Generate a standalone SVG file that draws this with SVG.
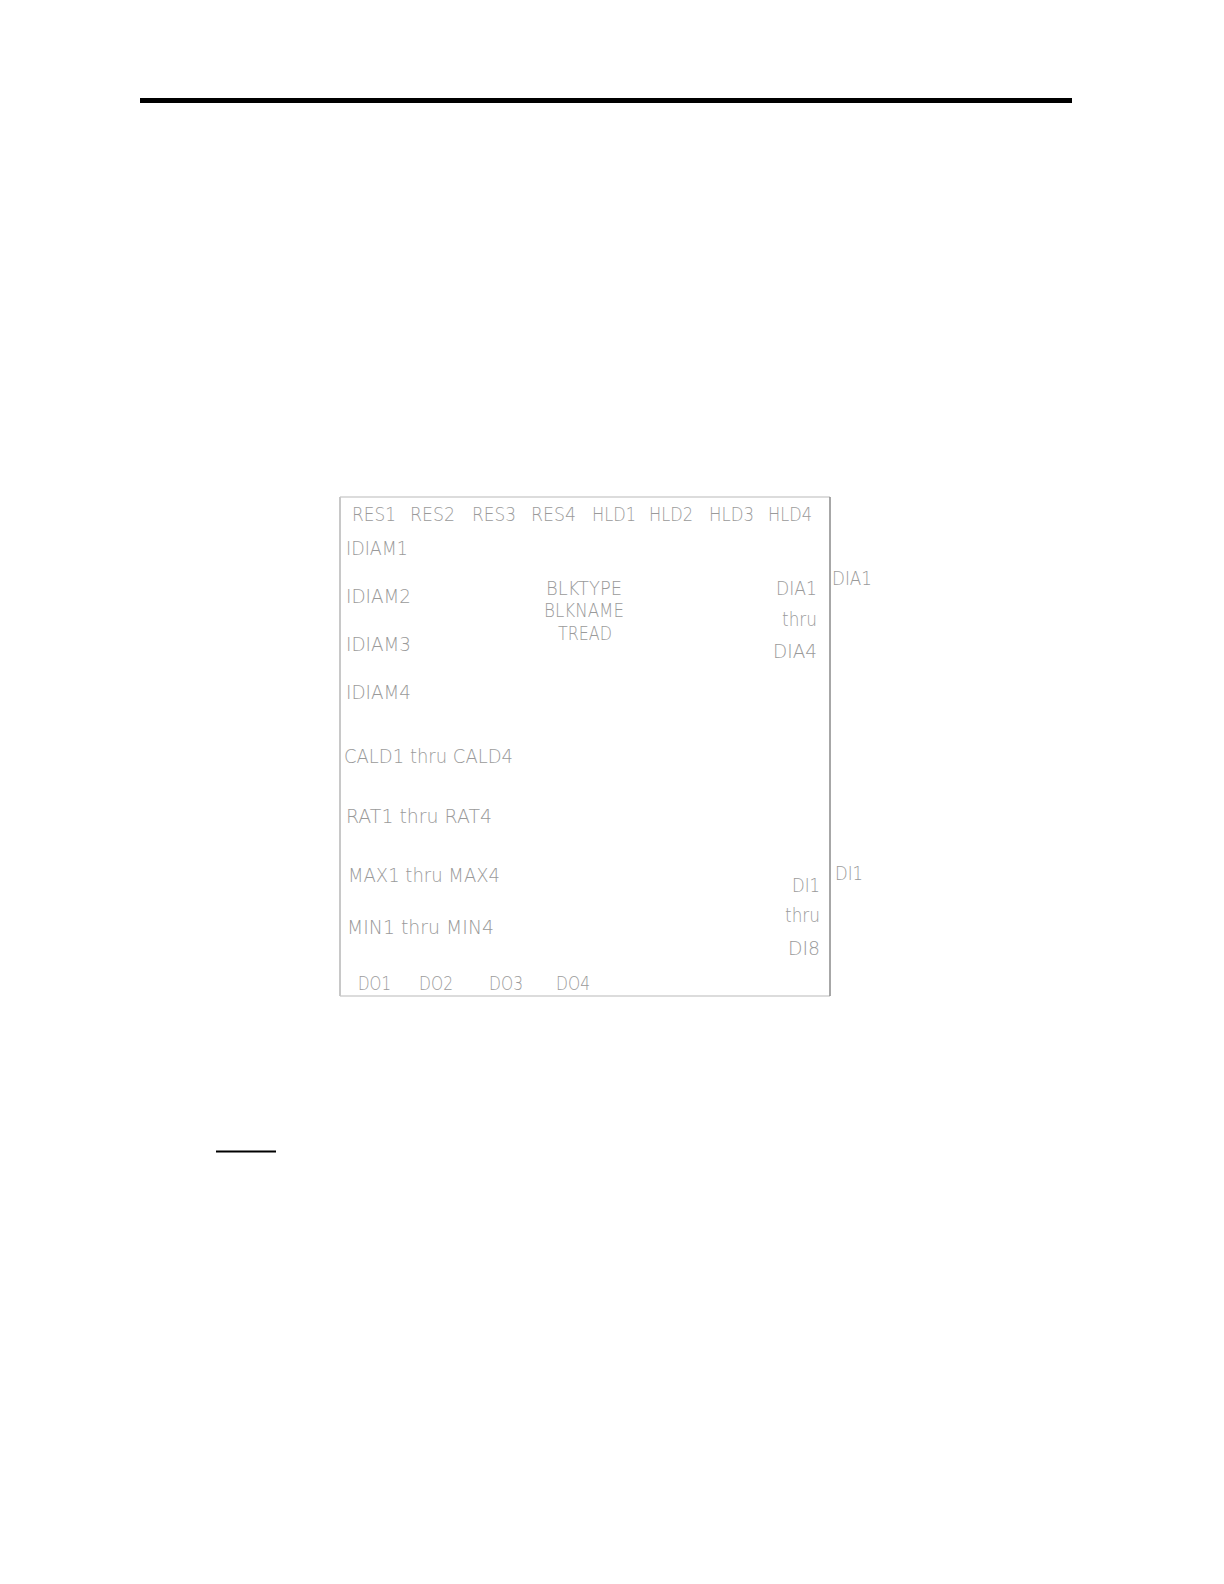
<svg xmlns="http://www.w3.org/2000/svg" width="1224" height="1584" viewBox="0 0 1224 1584">
<style>
text{font-family:"DejaVu Sans","Liberation Sans",sans-serif;font-weight:200;font-size:20px;fill:#9a9a9a;}
.r{text-anchor:end}
.m{text-anchor:middle}
</style>
<rect width="1224" height="1584" fill="#fff"/>
<rect x="140" y="98" width="932" height="5" fill="#000"/>
<line x1="216" y1="1151.5" x2="276" y2="1151.5" stroke="#000" stroke-width="2"/>
<g id="block">
<line x1="340" y1="497" x2="830" y2="497" stroke="#d0d0d0" stroke-width="1.5"/>
<line x1="340" y1="996" x2="830" y2="996" stroke="#d0d0d0" stroke-width="1.5"/>
<line x1="340" y1="497" x2="340" y2="996" stroke="#c8c8c8" stroke-width="2"/>
<line x1="830" y1="497" x2="830" y2="996" stroke="#8a8a8a" stroke-width="1.5"/>
<text x="352" y="521" textLength="44" lengthAdjust="spacingAndGlyphs">RES1</text>
<text x="410" y="521" textLength="45" lengthAdjust="spacingAndGlyphs">RES2</text>
<text x="472" y="521" textLength="44" lengthAdjust="spacingAndGlyphs">RES3</text>
<text x="531" y="521" textLength="45" lengthAdjust="spacingAndGlyphs">RES4</text>
<text x="592" y="521" textLength="44" lengthAdjust="spacingAndGlyphs">HLD1</text>
<text x="649" y="521" textLength="44" lengthAdjust="spacingAndGlyphs">HLD2</text>
<text x="709" y="521" textLength="45" lengthAdjust="spacingAndGlyphs">HLD3</text>
<text x="768" y="521" textLength="44" lengthAdjust="spacingAndGlyphs">HLD4</text>
<text x="346" y="555" textLength="62" lengthAdjust="spacingAndGlyphs">IDIAM1</text>
<text x="346" y="603" textLength="65" lengthAdjust="spacingAndGlyphs">IDIAM2</text>
<text x="346" y="651" textLength="65" lengthAdjust="spacingAndGlyphs">IDIAM3</text>
<text x="346" y="699" textLength="65" lengthAdjust="spacingAndGlyphs">IDIAM4</text>
<text x="546" y="595" textLength="76" lengthAdjust="spacingAndGlyphs">BLKTYPE</text>
<text x="544" y="617" textLength="80" lengthAdjust="spacingAndGlyphs">BLKNAME</text>
<text x="558" y="640" textLength="54" lengthAdjust="spacingAndGlyphs">TREAD</text>
<text x="817" y="595" class="r" textLength="41" lengthAdjust="spacingAndGlyphs">DIA1</text>
<text x="817" y="626" class="r" textLength="35" lengthAdjust="spacingAndGlyphs">thru</text>
<text x="817" y="658" class="r" textLength="44" lengthAdjust="spacingAndGlyphs">DIA4</text>
<text x="344" y="763" textLength="169" lengthAdjust="spacingAndGlyphs">CALD1 thru CALD4</text>
<text x="346" y="823" textLength="146" lengthAdjust="spacingAndGlyphs">RAT1 thru RAT4</text>
<text x="348" y="882" textLength="152" lengthAdjust="spacingAndGlyphs">MAX1 thru MAX4</text>
<text x="347" y="934" textLength="147" lengthAdjust="spacingAndGlyphs">MIN1 thru MIN4</text>
<text x="358" y="990" textLength="33" lengthAdjust="spacingAndGlyphs">DO1</text>
<text x="419" y="990" textLength="34" lengthAdjust="spacingAndGlyphs">DO2</text>
<text x="489" y="990" textLength="34" lengthAdjust="spacingAndGlyphs">DO3</text>
<text x="556" y="990" textLength="34" lengthAdjust="spacingAndGlyphs">DO4</text>
<text x="820" y="892" class="r" textLength="28" lengthAdjust="spacingAndGlyphs">DI1</text>
<text x="820" y="922" class="r" textLength="35" lengthAdjust="spacingAndGlyphs">thru</text>
<text x="820" y="955" class="r" textLength="32" lengthAdjust="spacingAndGlyphs">DI8</text>
</g>
<g id="outside-labels">
<text x="832" y="585" textLength="40" lengthAdjust="spacingAndGlyphs">DIA1</text>
<text x="835" y="880" textLength="28" lengthAdjust="spacingAndGlyphs">DI1</text>
</g>
<g id="connectors"></g>
</svg>
